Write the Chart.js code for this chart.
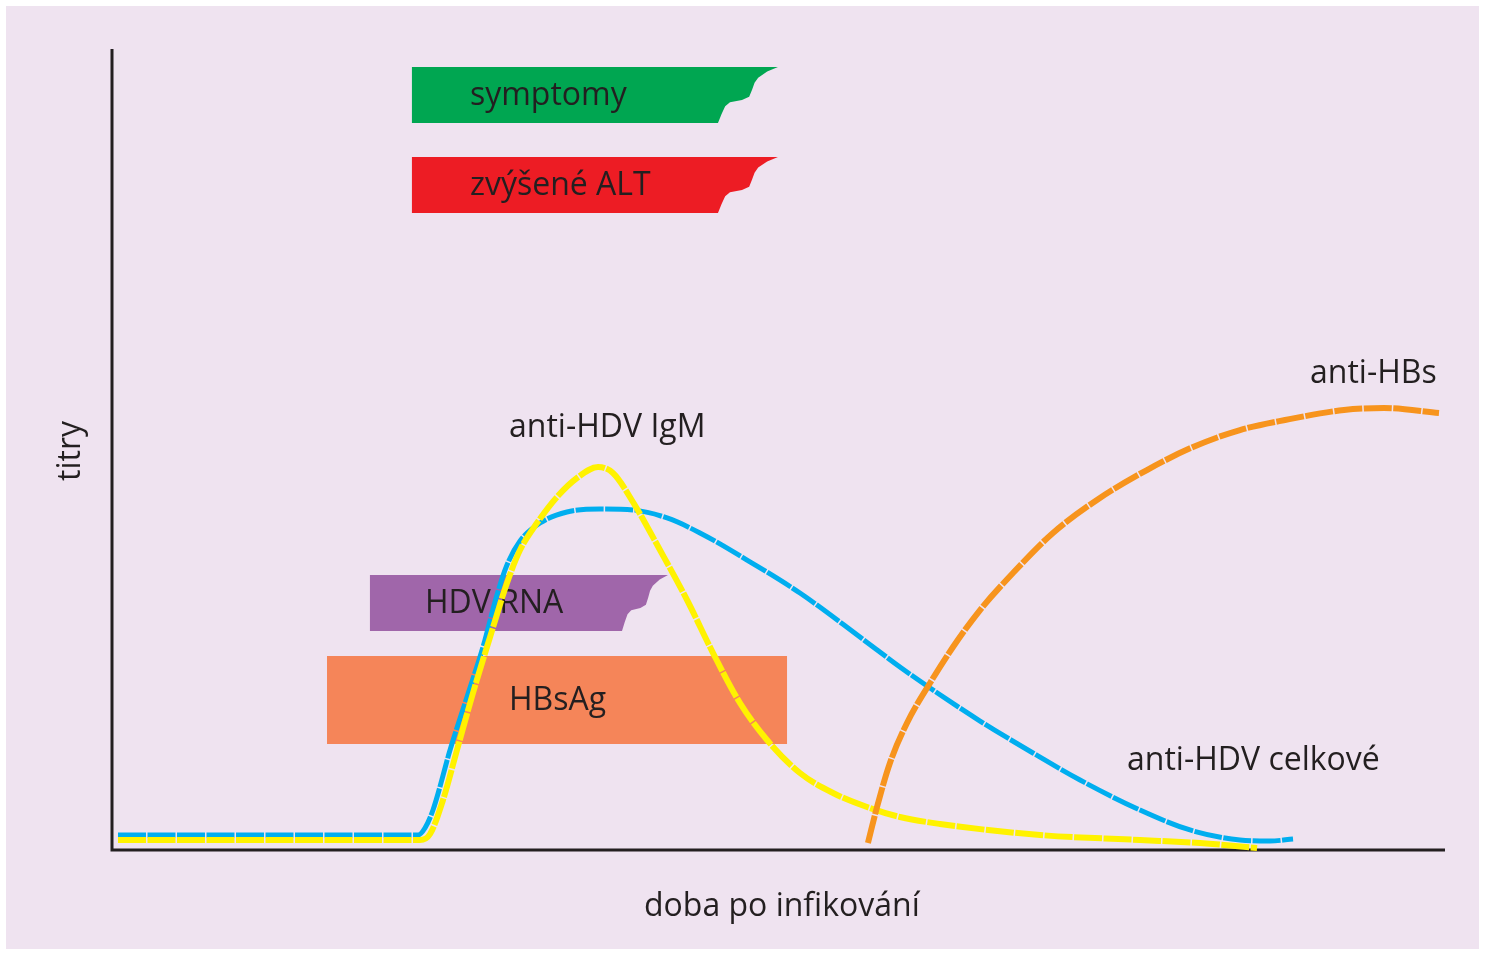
<!DOCTYPE html>
<html>
<head>
<meta charset="utf-8">
<script src="https://cdn.jsdelivr.net/npm/chart.js@4.4.1/dist/chart.umd.min.js"></script>
<style>
html,body{margin:0;padding:0;background:#fff;}
#wrap{width:1485px;height:955px;}
</style>
</head>
<body>
<div id="wrap"><canvas id="c" width="1485" height="955"></canvas></div>
<script>
// ---- data (arbitrary units: x = time 0..100, y = titre 0..100) ----
const antiHdvTotalX = [0.45,14.10,22.96,23.48,24.08,25.36,26.63,27.83,28.88,29.63,30.61,32.11,34.13,36.61,39.08,41.64,44.11,47.64,51.61,56.11,59.11,61.37,65.12,69.09,72.62,77.12,80.87,84.62,86.87,88.60];
const antiHdvTotalY = [1.87,1.87,1.87,2.75,4.99,12.48,19.10,25.34,31.84,35.58,38.58,40.82,42.20,42.57,42.45,41.45,39.58,36.20,32.08,26.59,22.85,20.22,16.10,12.11,8.74,4.99,2.50,1.25,1.12,1.37];

const antiHdvIgmX = [0.45,14.10,23.11,23.86,24.83,25.88,27.08,28.36,29.63,30.61,31.88,33.38,34.88,36.46,37.58,39.08,41.11,43.14,45.09,47.11,49.14,51.61,54.09,56.64,59.11,62.12,69.62,77.12,81.62,85.90];
const antiHdvIgmY = [1.25,1.25,1.25,2.00,6.24,12.48,19.60,26.59,33.33,37.45,40.82,44.07,46.44,47.82,47.07,43.45,37.45,31.21,24.59,18.35,13.73,9.61,7.12,5.37,4.12,3.25,1.87,1.25,0.87,0.25];

const antiHbsX = [56.71,57.39,58.36,59.64,61.37,63.09,65.12,67.59,70.59,73.89,77.64,81.10,84.62,88.00,92.42,95.42,99.55];
const antiHbsY = [0.87,5.37,10.86,15.86,20.85,25.34,29.96,34.58,39.58,43.70,47.44,50.31,52.43,53.68,54.93,55.18,54.56];

// interval bars: label, start, end (top edge), end (bottom edge), top, bottom
const barLabels   = ['symptomy','zvýšené ALT','HDV RNA','HBsAg'];
const barStart    = [22.5, 22.5, 19.35, 16.13];
const barEndTop   = [49.96, 49.96, 41.71, 50.64];
const barEndBot   = [45.46, 45.46, 38.26, 50.64];
const barTop      = [97.75, 86.52, 34.33, 24.22];
const barBottom   = [90.76, 79.53, 27.34, 13.23];
const barColors   = ['#00a651','#ed1c24','#a066aa','#f58559'];

const toXY = (xs, ys) => xs.map((x, i) => ({x, y: ys[i]}));

const TXT = '#231f20';
const FONT = '"Open Sans", "Noto Sans", sans-serif';
const FS = 32;

function tornBar(ctx, x0, xTop, xBot, yTop, yBot, color) {
  ctx.fillStyle = color;
  ctx.beginPath();
  ctx.moveTo(x0, yTop);
  ctx.lineTo(xTop, yTop);
  if (Math.abs(xTop - xBot) < 1) {
    ctx.lineTo(xBot, yBot);
  } else {
    const dx = xTop - xBot, h = yBot - yTop;
    const P = (fx, fy) => [xTop - fx * dx, yTop + fy * h];
    const pts = [[0.18,0.08],[0.33,0.19],[0.39,0.28],[0.43,0.40],[0.48,0.53],[0.60,0.59],[0.80,0.63],[0.88,0.70],[0.94,0.84],[1,1]];
    pts.forEach(p => ctx.lineTo(...P(p[0], p[1])));
  }
  ctx.lineTo(x0, yBot);
  ctx.closePath();
  ctx.fill();
}

function label(ctx, text, x, y, size) {
  ctx.font = size + 'px ' + FONT;
  ctx.fillStyle = TXT;
  ctx.textBaseline = 'middle';
  ctx.textAlign = 'left';
  ctx.fillText(text, x, y);
}

const drawPlugin = {
  id: 'drawPlugin',
  beforeDraw(chart) {
    const c = chart.ctx;
    c.save();
    c.fillStyle = '#ffffff';
    c.fillRect(0, 0, chart.width, chart.height);
    c.fillStyle = '#efe3f0';
    c.fillRect(6, 6, chart.width - 12, chart.height - 12);
    c.restore();
  },
  beforeDatasetsDraw(chart) {
    const c = chart.ctx, xs = chart.scales.x, ys = chart.scales.y, a = chart.chartArea;
    c.save();
    barLabels.forEach((lab, i) => {
      tornBar(c, xs.getPixelForValue(barStart[i]), xs.getPixelForValue(barEndTop[i]),
        xs.getPixelForValue(barEndBot[i]), ys.getPixelForValue(barTop[i]),
        ys.getPixelForValue(barBottom[i]), barColors[i]);
    });
    const labOff = [58, 58, 55, 182];
    barLabels.forEach((lab, i) => {
      const x = xs.getPixelForValue(barStart[i]) + labOff[i];
      const y = (ys.getPixelForValue(barTop[i]) + ys.getPixelForValue(barBottom[i])) / 2 + 1;
      label(c, lab, x, y, FS);
    });
    // axes
    c.strokeStyle = '#231f20';
    c.lineWidth = 3;
    c.beginPath();
    c.moveTo(a.left, a.top);
    c.lineTo(a.left, a.bottom);
    c.lineTo(a.right, a.bottom);
    c.stroke();
    c.restore();
  },
  afterDatasetsDraw(chart) {
    const c = chart.ctx;
    c.save();
    label(c, 'anti-HDV IgM', 509, 428, FS);
    label(c, 'anti-HBs', 1310, 374, FS);
    label(c, 'anti-HDV celkové', 1127, 761, FS);
    label(c, 'doba po infikování', 644, 907, FS);
    c.translate(71, 451);
    c.rotate(-Math.PI / 2);
    c.font = FS + 'px ' + FONT;
    c.textAlign = 'center';
    c.textBaseline = 'middle';
    c.fillStyle = TXT;
    c.fillText('titry', 0, 0);
    c.restore();
  }
};

new Chart(document.getElementById('c'), {
  type: 'line',
  data: {
    datasets: [
      { label: 'anti-HBs', data: toXY(antiHbsX, antiHbsY), borderColor: '#f7941d', borderWidth: 6, borderDash: [28, 1.5], order: 0 },
      { label: 'anti-HDV IgM', data: toXY(antiHdvIgmX, antiHdvIgmY), borderColor: '#fff200', borderWidth: 6, borderDash: [28, 1.5], order: 1 },
      { label: 'anti-HDV celkové', data: toXY(antiHdvTotalX, antiHdvTotalY), borderColor: '#00aeef', borderWidth: 5, borderDash: [28, 1.5], order: 2 }
    ]
  },
  options: {
    responsive: false,
    animation: false,
    layout: { padding: { left: 112, right: 40, top: 49, bottom: 105 } },
    elements: {
      point: { radius: 0, hoverRadius: 0 },
      line: { cubicInterpolationMode: 'monotone', fill: false, borderCapStyle: 'butt', borderJoinStyle: 'round' }
    },
    scales: {
      x: { type: 'linear', min: 0, max: 100, display: false },
      y: { type: 'linear', min: 0, max: 100, display: false }
    },
    plugins: { legend: { display: false }, tooltip: { enabled: false } },
    clip: false
  },
  plugins: [drawPlugin]
});
</script>
</body>
</html>
